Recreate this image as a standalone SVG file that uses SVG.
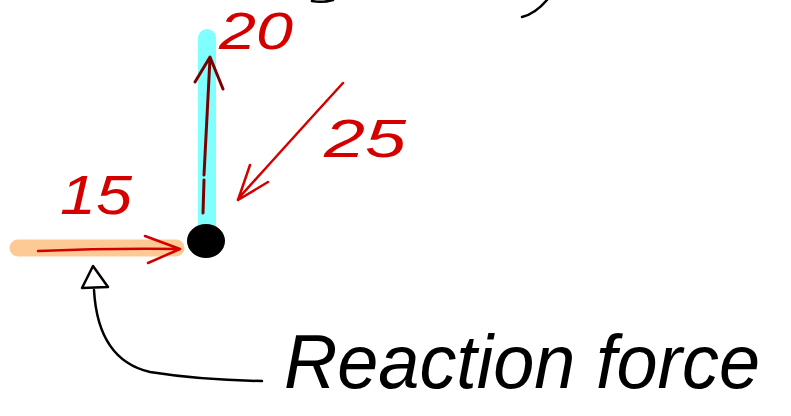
<svg xmlns="http://www.w3.org/2000/svg" width="791" height="416" viewBox="0 0 791 416">
<style>
.hand{font-family:"Liberation Sans","DejaVu Sans",sans-serif;font-style:italic;}
.red{fill:#d40000;}
.blk{fill:#000;}
.rs{fill:none;stroke:#d40000;stroke-width:2.5;stroke-linecap:round;stroke-linejoin:round;}
.ds{fill:none;stroke:#7a0000;stroke-width:3;stroke-linecap:round;stroke-linejoin:round;}
.bs{fill:none;stroke:#000;stroke-width:2.5;stroke-linecap:round;stroke-linejoin:round;}
</style>
<rect width="791" height="416" fill="#fff"/>
<g id="fragments">
<path class="bs" d="M522 17 Q535 14 547 0" stroke-width="3.5"/>
<path class="bs" d="M312 1 Q322 3 333 0" stroke-width="3.5"/>
</g>
<g id="vertical-member">
<line x1="207" y1="38" x2="207" y2="232" stroke="#80ffff" stroke-width="18" stroke-linecap="round"/>
</g>
<g id="horizontal-member">
<line x1="18" y1="248" x2="176" y2="248" stroke="#fdc994" stroke-width="17" stroke-linecap="round"/>
</g>
<g id="joint">
<ellipse cx="206" cy="241" rx="19" ry="17" fill="#000"/>
</g>
<g id="connectors">
<path class="ds" d="M203 213 L204 180 M204 175 L210 58 M195 82 L210 57 L223 89"/>
<path class="rs" d="M343 83 Q300 130 238 199 M250 165 L238 200 L268 182"/>
<path class="rs" d="M38 251 Q110 248 180 249 M145 236 L180 249 L148 263"/>
<path class="bs" d="M262 381 Q200 380 150 372 Q98 360 94 290"/>
<path class="bs" d="M93 266 L82 288 L108 287 Z" stroke-width="3"/>
</g>
<g id="label-20"><text class="hand red" x="219" y="49" font-size="52" textLength="74" lengthAdjust="spacingAndGlyphs">20</text></g>
<g id="label-25"><text class="hand red" x="324" y="157" font-size="54" textLength="82" lengthAdjust="spacingAndGlyphs">25</text></g>
<g id="label-15"><text class="hand red" x="60" y="214" font-size="56" textLength="72" lengthAdjust="spacingAndGlyphs">15</text></g>
<g id="label-reaction"><text class="hand blk" x="284" y="388" font-size="76" textLength="476" lengthAdjust="spacingAndGlyphs">Reaction force</text></g>
</svg>
